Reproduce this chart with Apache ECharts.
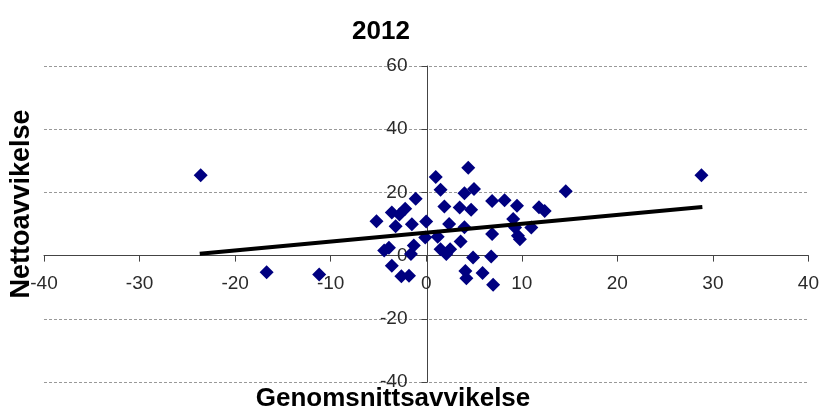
<!DOCTYPE html>
<html>
<head>
<meta charset="utf-8">
<script src="https://cdn.jsdelivr.net/npm/echarts@6/dist/echarts.min.js"></script>
<style>
html,body{margin:0;padding:0;background:#fff;}
#chart{width:822px;height:410px;}
</style>
</head>
<body>
<div id="chart"></div>
<script>
var titleText = '2012';
var xName = 'Genomsnittsavvikelse';
var yName = 'Nettoavvikelse';
var pointsX = [-23.6,-16.7,-11.2,-5.2,-4.4,-3.9,-3.6,-3.6,-3.2,-2.8,-2.2,-2.6,-1.8,-1.5,-1.3,-1.6,-1.1,0.0,-0.1,1.2,1.0,1.5,1.9,1.5,2.1,2.5,2.4,3.5,3.6,4.4,4.0,5.0,4.7,4.0,4.9,4.1,4.2,5.9,6.8,7.0,6.9,6.9,8.2,9.5,9.1,9.3,9.6,9.8,11.0,11.8,12.4,14.6,28.8];
var pointsY = [25.4,-5.3,-6.0,10.9,1.6,2.5,13.6,-3.2,9.3,13.0,14.8,-6.5,-6.4,9.9,3.2,0.5,18.0,10.8,5.7,6.0,24.9,20.8,15.5,2.0,0.5,2.0,10.0,15.2,4.5,27.8,19.7,21.1,14.5,9.0,-0.6,-4.9,-7.2,-5.5,-0.3,-9.2,6.8,17.3,17.5,15.8,11.6,8.9,6.3,5.2,8.9,15.3,14.1,20.4,25.4];
var trendX = [-23.7, 28.9];
var trendY = [0.6, 15.4];

var scatterData = pointsX.map(function(x,i){return [x, pointsY[i]];});
var trendData = trendX.map(function(x,i){return [x, trendY[i]];});

var gridLeft = 44, gridRight = 11, gridTop = 66, gridBottom = 28;
var W = 822, H = 410;
var xMin = -40, xMax = 40, yMin = -40, yMax = 60;
var plotW = W - gridLeft - gridRight, plotH = H - gridTop - gridBottom;
var xAxisOffset = -plotH * (0 - yMin) / (yMax - yMin);
var yAxisOffset = -plotW * (0 - xMin) / (xMax - xMin);

var chart = echarts.init(document.getElementById('chart'), null, {renderer:'canvas'});
chart.setOption({
  animation:false,
  backgroundColor:'#fff',
  title:{
    text:titleText,
    left:376, top:14, textAlign:'center',
    textStyle:{fontFamily:'Liberation Sans, Arial, sans-serif', fontSize:26, fontWeight:'bold', color:'#000'}
  },
  grid:{left:gridLeft, right:gridRight, top:gridTop, bottom:gridBottom, containLabel:false},
  xAxis:{
    type:'value', min:xMin, max:xMax, interval:10, offset:xAxisOffset,
    axisLine:{show:true, onZero:false, lineStyle:{color:'#444', width:1}},
    axisTick:{show:true, length:6, lineStyle:{color:'#444'}},
    axisLabel:{fontFamily:'Liberation Sans, Arial, sans-serif', fontSize:19, color:'#2a2a2a', margin:19},
    splitLine:{show:false}
  },
  yAxis:{
    type:'value', min:yMin, max:yMax, interval:20, offset:yAxisOffset,
    axisLine:{show:true, onZero:false, lineStyle:{color:'#444', width:1}},
    axisTick:{show:true, length:6, lineStyle:{color:'#444'}},
    axisLabel:{fontFamily:'Liberation Sans, Arial, sans-serif', fontSize:19, color:'#2a2a2a', margin:20},
    splitLine:{show:true, lineStyle:{color:'#999', type:[3,2], width:1}}
  },
  graphic:[
    {type:'text', x:393, y:399, style:{text:xName, font:'bold 26px "Liberation Sans", Arial, sans-serif', fill:'#000', textAlign:'center', textVerticalAlign:'middle'}},
    {type:'text', rotation:Math.PI/2, x:22, y:204, style:{text:yName, font:'bold 27px "Liberation Sans", Arial, sans-serif', fill:'#000', textAlign:'center', textVerticalAlign:'middle'}}
  ],
  series:[
    {type:'scatter', data:scatterData, symbol:'diamond', symbolSize:14, itemStyle:{color:'#000080', opacity:1}, z:2},
    {type:'line', data:trendData, showSymbol:false, symbol:'none', lineStyle:{color:'#000', width:4}, z:3}
  ]
});
</script>
</body>
</html>
